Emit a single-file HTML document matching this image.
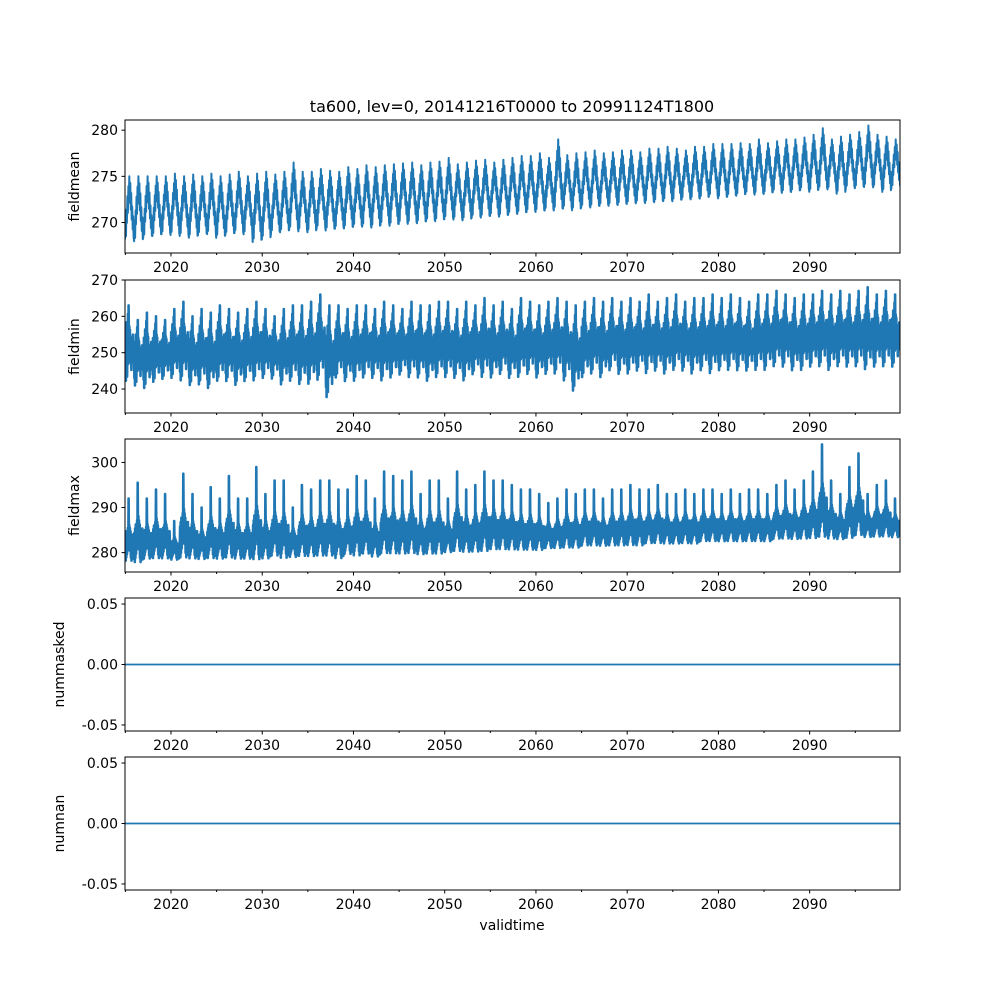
<!DOCTYPE html>
<html><head><meta charset="utf-8"><style>
body{margin:0;background:#fff;}
svg text{font-family:"DejaVu Sans","Liberation Sans",sans-serif;fill:#000;}
</style></head><body>
<svg id="fig" width="1000" height="1000" xmlns="http://www.w3.org/2000/svg">
<rect width="1000" height="1000" fill="#fff"/>
<text x="512" y="112" font-size="16" text-anchor="middle">ta600, lev=0, 20141216T0000 to 20991124T1800</text>
</svg>
<script>
const years=[];for(let y=2015;y<=2099;y++)years.push(y);
const xTicks=[2020,2030,2040,2050,2060,2070,2080,2090];
// fieldmean annual max/min
const meanMax=[275,275,275,275,275,275.3,275,275.2,275,275.3,275,275.2,275.5,275,275.3,275.5,275.2,275.5,276.5,275.5,275.5,275.8,275.6,275.5,276,275.8,276.2,276,276.2,276.3,276.4,276.5,276.2,276.5,276.6,277,276.3,276.5,276.7,276.8,276.5,276.8,277,277.2,277.2,277.5,277,279,277.3,277.5,277.6,277.8,277.5,277.6,277.8,277.8,277.6,278,278,278.2,278,277.8,278.2,278.2,278.5,278.5,278.5,278.6,278.5,279,278.6,278.8,279,279,279.2,279.5,280.2,279,279.3,279.5,279.8,280.5,279.5,279.3,279];
const meanMin=[267.8,267.6,268,268.2,268.4,268.3,268.2,268,268.3,268.4,268,268.3,268.5,268.4,267.5,267.8,268.5,268.6,268.8,268.7,268.6,269,268.8,269,269,269.2,269.2,269.1,269.4,269.3,269.5,269.5,269.6,269.8,269.8,270,270,269.9,270.2,270.2,270.4,270.3,270.5,270.6,270.8,270.8,271,270.9,271.2,271,271.3,271.3,271.5,271.5,271.6,271.7,271.8,271.8,271.9,272,272,272.2,272.2,272.3,272.5,272.3,272.5,272.6,272.8,272.7,272.8,273,272.9,273,273.2,273,273.2,273.3,272.8,273.4,273.4,273.5,273.5,273,273.5];
// fieldmin annual max/min
const minMax=[263,259,261,260,259,262,264,260,262,261,263,262,261,262,264,262,260,262,263,263,264,266,263,263,262,263,263,262,264,263,262,264,263,263,264,264,262,264,263,265,263,264,262,265,264,263,264,265,264,263,264,265,264,265,264,265,264,266,264,265,266,264,265,265,266,265,266,265,264,266,266,267,266,265,266,266,267,266,267,266,267,268,266,267,266];
const minMin=[240,239,238,240,241,241,240,239,239,238,240,240,239,240,240,241,241,239,240,239,239,240,235,241,240,240,241,241,240,241,242,241,241,240,241,241,241,240,242,241,241,242,241,241,242,241,242,242,240,237,241,242,241,243,242,242,243,242,243,242,243,243,242,243,242,243,243,243,243,243,243,244,244,243,243,244,244,243,244,244,244,243,244,244,244];
// fieldmax annual max/min
const maxMax=[292,295.5,292,294,293,287,297.5,293,290,294.5,292,297,292,292,299,293,296,296,290,295,294,296,296,294,294,297,296,292,298,297,296,298,293,296,296,292,298,294,295,298,296,296,295,294,294,293,291,292,294,293,294,294,292,294,294,295,294,294,295,293,293,294,293,294,294,293,294,293,294,294,293,295,296,294,296,298,304,296,293,299,302,293,295,296,292];
const maxMin=[277.5,277,278,278,278,278,278,278,278,278,278,278,278,278,277.5,278,278.5,278,278.5,278.5,278.5,278.5,278.5,278,279,278.5,279,278.5,279,279,279,279,279,279,279,279.5,279.5,279.5,279.5,279.5,280,280,280,280,280,280,280.5,280.5,280.5,280.5,281,281,281,281,281,281,281,281.5,281.5,281.5,281.5,281.5,281.5,282,282,282,282,282,282,282,282,282.5,282.5,282.5,282.5,282.5,282.5,282.5,282.5,282.5,283,283,283,283,283];
const maskedVals=[0,0];
const nanVals=[0,0];

const panels=[
 {name:'fieldmean',top:120,bottom:253,ymin:266.7,ymax:281.1,ticks:[270,275,280],fmt:v=>v.toFixed(0),kind:'mean'},
 {name:'fieldmin',top:280,bottom:413,ymin:233.4,ymax:270,ticks:[240,250,260,270],fmt:v=>v.toFixed(0),kind:'min'},
 {name:'fieldmax',top:439,bottom:572,ymin:275.7,ymax:305.2,ticks:[280,290,300],fmt:v=>v.toFixed(0),kind:'max'},
 {name:'nummasked',top:598,bottom:731,ymin:-0.055,ymax:0.055,ticks:[-0.05,0,0.05],fmt:v=>v.toFixed(2),kind:'flat',vals:maskedVals},
 {name:'numnan',top:757,bottom:890,ymin:-0.055,ymax:0.055,ticks:[-0.05,0,0.05],fmt:v=>v.toFixed(2),kind:'flat',vals:nanVals}
];
const L=125,R=900,X0=2014.96,X1=2099.9;
const sx=t=>L+(t-X0)/(X1-X0)*(R-L);
const NS='http://www.w3.org/2000/svg';
const svg=document.getElementById('fig');
function mk(tag,attrs,parent){const e=document.createElementNS(NS,tag);for(const k in attrs)e.setAttribute(k,attrs[k]);(parent||svg).appendChild(e);return e;}
// per-year shape patterns (fraction of envelope)
const patMean=[0.05,0.35,0.1,0.5,0.3,0.7,0.45,0.85,0.6,1,0.65,0.9,0.5,0.75,0.35,0.55,0.2,0.4,0.08];
const patMin=[0.5,0.2,0.7,0.1,0.6,0.3,0.8,0.15,0.55,0.4,0.9,0.3,1,0.45,0.75,0.35,0.85,0.4,0.7,0.2,0.6,0.05,0.55,0.25,0.65,0.3,0.75,0.2,0.6,0.4];
const patMax=[0.1,0.4,0.05,0.45,0.1,0.5,0.15,0.45,0.2,0.55,0.3,1,0.4,0.6,0.25,0.55,0.2,0.5,0.1,0.45,0.05,0.4,0.1,0.35,0.15,0.45,0.08,0.3];
panels.forEach((p,pi)=>{
 const g=mk('g',{});
 
 
 const sy=v=>p.bottom-(v-p.ymin)/(p.ymax-p.ymin)*(p.bottom-p.top);
 const clipId='c'+pi;
 const cp=mk('clipPath',{id:clipId},g);mk('rect',{x:L,y:p.top,width:R-L,height:p.bottom-p.top},cp);
 let pts=[];
 if(p.kind==='flat'){
  pts=[[X0,p.vals[0]],[X1,p.vals[1]]];
 }else{
  const hi=p.kind==='mean'?meanMax:p.kind==='min'?minMax:maxMax;
  const lo=p.kind==='mean'?meanMin:p.kind==='min'?minMin:maxMin;
  const pat=p.kind==='mean'?patMean:p.kind==='min'?patMin:patMax;
  years.forEach((y,i)=>{
   pat.forEach((f,k)=>{
    const t=y-0.04+k/pat.length;
    let v;
    if(p.kind==='min'){const mid=(hi[i]+lo[i])/2;const a=(hi[i]-lo[i])/2;const seas=(k<pat.length/2)?1:0.6;v=mid+(f-0.5)*2*a*seas;}
    else v=lo[i]+(hi[i]-lo[i])*f;
    pts.push([t,v]);
   });
  });
 }
 const line=mk('polyline',{points:pts.map(q=>sx(q[0]).toFixed(1)+','+sy(q[1]).toFixed(1)).join(' '),fill:'none',stroke:'#1f77b4','stroke-width':p.kind==='flat'?1.8:(p.kind==='mean'?2:2.6),'stroke-linejoin':'round','clip-path':'url(#'+clipId+')'},g);
 
 
 const frame=mk('rect',{x:L,y:p.top,width:R-L,height:p.bottom-p.top,fill:'none',stroke:'#000','stroke-width':1},g);
 
 
 p.ticks.forEach(v=>{
  const y=sy(v);
  mk('line',{x1:L-3.5,x2:L,y1:y,y2:y,stroke:'#000'},g);
  const t=mk('text',{x:L-7,y:y+5,'font-size':14,'text-anchor':'end'},g);t.textContent=p.fmt(v);
  
  
 });
 for(let y=2015;y<=2099;y+=5){
  const major=y%10===0;
  mk('line',{x1:sx(y),x2:sx(y),y1:p.bottom,y2:p.bottom+(major?3.5:2),stroke:'#000'},g);
 }
 xTicks.forEach(y=>{
  const t=mk('text',{x:sx(y),y:p.bottom+19,'font-size':14,'text-anchor':'middle'},g);t.textContent=y;
  
  
 });
 const ylx=p.kind==='flat'?64:79;
 const yl=mk('text',{x:ylx,y:(p.top+p.bottom)/2,'font-size':14,'text-anchor':'middle',transform:'rotate(-90 '+ylx+' '+(p.top+p.bottom)/2+')'},g);
 yl.textContent=p.name;
 
 
});
const xl=mk('text',{x:512,y:930,'font-size':14,'text-anchor':'middle'});
xl.textContent='validtime';


</script>
</body></html>
